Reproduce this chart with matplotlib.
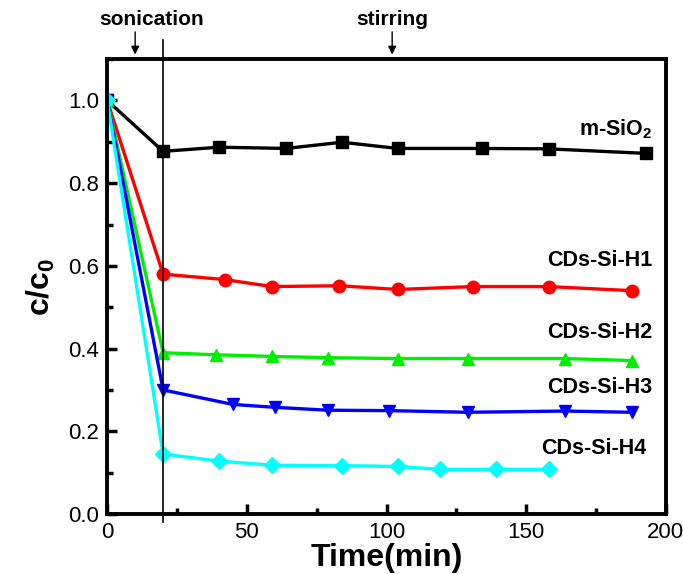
import matplotlib
matplotlib.use("Agg")
import matplotlib.pyplot as plt
import matplotlib.transforms as mtransforms
from matplotlib.ticker import MultipleLocator

plt.rcParams['font.family'] = ['Liberation Sans', 'DejaVu Sans']
plt.rcParams['mathtext.fontset'] = 'custom'
plt.rcParams['mathtext.rm'] = 'Liberation Sans'
plt.rcParams['mathtext.bf'] = 'Liberation Sans:bold'

# data
t_sio2 = [0, 20, 40, 64, 84, 104, 134, 158, 193]
c_sio2 = [1.0, 0.877, 0.887, 0.884, 0.899, 0.884, 0.884, 0.883, 0.872]
t_h1 = [0, 20, 42, 59, 83, 104, 131, 158, 188]
c_h1 = [1.0, 0.580, 0.567, 0.550, 0.552, 0.543, 0.550, 0.550, 0.540]
t_h2 = [0, 20, 39, 59, 79, 104, 129, 164, 188]
c_h2 = [1.0, 0.390, 0.385, 0.381, 0.378, 0.376, 0.376, 0.376, 0.371]
t_h3 = [0, 20, 45, 60, 79, 101, 129, 164, 188]
c_h3 = [1.0, 0.300, 0.265, 0.258, 0.251, 0.250, 0.246, 0.249, 0.246]
t_h4 = [0, 20, 40, 59, 84, 104, 119, 139, 158]
c_h4 = [1.0, 0.145, 0.128, 0.118, 0.117, 0.115, 0.108, 0.108, 0.108]

names = [r'm-SiO$_\mathbf{2}$', 'CDs-Si-H1', 'CDs-Si-H2', 'CDs-Si-H3', 'CDs-Si-H4']
label_pos = [(195, 0.93), (195, 0.612), (195, 0.439), (195, 0.307), (193, 0.158)]
sonication_end = 20
arrow_x = [10, 102]
arrow_text = ['sonication', 'stirring']
text_x = [16, 102]

fig = plt.figure(figsize=(6.83, 5.74), dpi=100)
ax = fig.add_axes([0.157, 0.1045, 0.818, 0.7925])

series = [(t_sio2, c_sio2, 'black', 's'),
          (t_h1, c_h1, '#ff0000', 'o'),
          (t_h2, c_h2, '#00ee00', '^'),
          (t_h3, c_h3, '#0000ff', 'v'),
          (t_h4, c_h4, '#00ffff', 'D')]
for (t, c, col, mk) in series:
    ms = 9 if mk != 'D' else 8
    ax.plot(t, c, color=col, marker=mk, ms=ms, lw=2.4, mec=col)

for name, (x, y) in zip(names, label_pos):
    ax.text(x, y, name, ha='right', va='center', fontsize=15.5, fontweight='bold')

ax.set_xlim(0, 200)
ax.set_ylim(0, 1.1)
ax.xaxis.set_major_locator(MultipleLocator(50))
ax.xaxis.set_minor_locator(MultipleLocator(25))
ax.yaxis.set_major_locator(MultipleLocator(0.2))
ax.yaxis.set_minor_locator(MultipleLocator(0.1))
ax.tick_params(which='major', direction='in', length=7, width=2.5, labelsize=16, pad=6)
ax.tick_params(which='minor', direction='in', length=4, width=2.5)
for s in ax.spines.values():
    s.set_linewidth(2.8)

ax.set_xlabel('Time(min)', fontsize=23, fontweight='bold', labelpad=0)
ax.set_ylabel(r'c/c$_\mathbf{0}$', fontsize=23, fontweight='bold', labelpad=8)

trans = mtransforms.blended_transform_factory(ax.transData, ax.transAxes)
ax.plot([sonication_end, sonication_end], [-0.018, 1.042], color='black', lw=1.2,
        transform=trans, clip_on=False)
for ax_x, txt, tx in zip(arrow_x, arrow_text, text_x):
    ax.annotate('', xy=(ax_x, 1.004), xytext=(ax_x, 1.066), xycoords=trans, textcoords=trans,
                arrowprops=dict(arrowstyle='-|>', lw=1.0, color='black', mutation_scale=12))
    ax.text(tx, 1.088, txt, transform=trans, ha='center', va='center',
            fontsize=15, fontweight='bold')

fig.savefig('out.png', dpi=100)
